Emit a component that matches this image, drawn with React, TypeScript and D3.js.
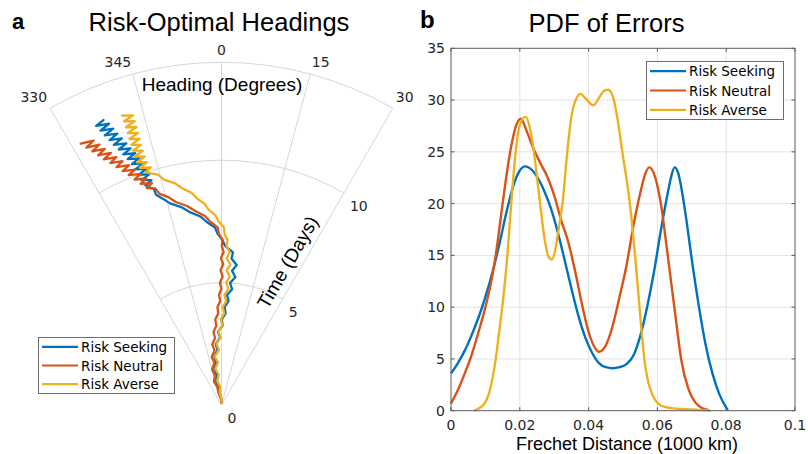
import React from 'react';
import * as d3 from 'd3';

type P = [number, number];

const seriesNames = ['Risk Seeking', 'Risk Neutral', 'Risk Averse'];
const seriesColors = ['#0072BD', '#D95319', '#EDB120'];

// Polar tracks: [time (days), heading (deg, negative = west of north)]
const seekingTrack: P[] = [
  [0.1, 0], [0.25, -2.5], [0.5, -9.5], [0.75, -8.5], [1, -12.5], [1.25, -9], [1.5, -11.5], [1.75, -7],
  [2, -8.5], [2.25, -4], [2.5, -5.5], [2.75, -1.2], [3, -2.7], [3.25, 0.8], [3.5, 0.2], [3.75, 2.6],
  [4, 1.8], [4.25, 3.9], [4.5, 2.9], [4.75, 5.2], [5, 4], [5.25, 6.2], [5.5, 4.5], [5.75, 6.2],
  [6, 3.9], [6.25, 4.3], [6.5, 1.3], [6.75, 0.3], [7, -1.3], [7.25, -2.1], [7.5, -4.6], [7.75, -6.4],
  [8, -9.5], [8.25, -11.5], [8.5, -14.3], [8.75, -15.8], [9, -17.3], [9.25, -17.4], [9.5, -19.1],
  [9.625, -17.3], [9.75, -19.6], [9.875, -17.4], [10, -19.7], [10.125, -17.7], [10.25, -20.1],
  [10.375, -18], [10.5, -20.4], [10.625, -18.4], [10.75, -20.9], [10.875, -18.9], [11, -21.4],
  [11.125, -19.5], [11.25, -21.9], [11.375, -20], [11.5, -22.5], [11.625, -20.5], [11.75, -22.9],
  [11.875, -21], [12, -23.4], [12.125, -21.4], [12.25, -23.8], [12.375, -21.8], [12.5, -24.2], [12.6, -22.5],
];
const neutralTrack: P[] = [
  [0.1, 0], [0.25, -4], [0.5, -14], [0.75, -13], [1, -18], [1.25, -12.5], [1.5, -15], [1.75, -9.5],
  [2, -11.5], [2.25, -7.2], [2.5, -8.7], [2.75, -5.5], [3, -6.3], [3.25, -3.7], [3.5, -4.2], [3.75, -2],
  [4, -2.4], [4.25, -0.7], [4.5, -1.3], [4.75, 0], [5, -0.7], [5.25, 0.5], [5.5, -0.4], [5.75, 0.7],
  [6, -0.2], [6.25, 0.8], [6.5, 0.1], [6.75, 0.3], [7, -0.9], [7.25, -1.2], [7.5, -3.5], [7.75, -5],
  [8, -7.7], [8.25, -9.8], [8.5, -12.7], [8.75, -14.2], [9, -16.4], [9.25, -17], [9.375, -19],
  [9.5, -17.4], [9.625, -20.1], [9.75, -18.4], [9.875, -21.1], [10, -19.3], [10.125, -22], [10.25, -20.2],
  [10.375, -22.9], [10.5, -21.1], [10.625, -23.8], [10.75, -22.1], [10.875, -24.7], [11, -23],
  [11.125, -25.6], [11.25, -23.7], [11.375, -26.3], [11.5, -24.5], [11.625, -27], [11.75, -25.1],
  [11.875, -27.7], [12, -25.8], [12.125, -28.3],
];
const averseTrack: P[] = [
  [0.1, 0], [0.25, 0.5], [0.5, -7.5], [0.75, -4], [1, -10], [1.25, -5.3], [1.5, -9.7], [1.75, -4.8],
  [2, -8], [2.25, -2.6], [2.5, -4.7], [2.75, -0.7], [3, -2.4], [3.25, 0.6], [3.5, -0.4], [3.75, 1.7],
  [4, 0.7], [4.25, 2.6], [4.5, 1.5], [4.75, 3.4], [5, 2.2], [5.25, 3.7], [5.5, 2.2], [5.75, 3.6],
  [6, 2], [6.25, 3.1], [6.5, 1.8], [6.75, 2.1], [7, 1], [7.25, 0.8], [7.5, -0.9], [7.75, -1.8],
  [8, -3.8], [8.25, -4.8], [8.5, -6.8], [8.75, -8], [9, -10.3], [9.25, -11.8], [9.5, -14.3], [9.75, -15.4],
  [10, -18], [10.125, -16.6], [10.25, -19], [10.375, -17.1], [10.5, -19.2], [10.625, -17.2], [10.75, -19.2],
  [10.875, -17.2], [11, -19.2], [11.125, -17.2], [11.25, -19.1], [11.375, -17.1], [11.5, -19.1],
  [11.625, -17.1], [11.75, -19], [11.875, -17], [12, -19], [12.125, -17], [12.25, -19], [12.375, -17], [12.5, -19],
];

const thetaTicks = [-30, -15, 0, 15, 30];
const thetaTickLabels = ['330', '345', '0', '15', '30'];
const radialTicks = [0, 5, 10];

// PDF curves: [Frechet distance (1000 km), density]
const seekingPdf: P[] = [
  [0, 3.6], [0.002, 4.6], [0.004, 5.8], [0.006, 7.3], [0.008, 9.0], [0.010, 11.0], [0.012, 13.3], [0.014, 16.0],
  [0.016, 19.0], [0.018, 21.6], [0.020, 23.2], [0.0215, 23.6], [0.023, 23.4], [0.025, 22.6], [0.027, 21.3],
  [0.029, 19.6], [0.031, 17.3], [0.033, 14.6], [0.035, 11.8], [0.037, 9.2], [0.039, 7.1], [0.041, 5.6],
  [0.043, 4.6], [0.045, 4.2], [0.047, 4.1], [0.049, 4.2], [0.051, 4.5], [0.053, 5.3], [0.055, 7.2],
  [0.057, 10.0], [0.059, 13.4], [0.061, 17.4], [0.063, 21.0], [0.064, 22.6], [0.065, 23.5], [0.066, 23.0],
  [0.068, 19.4], [0.070, 14.6], [0.072, 10.2], [0.074, 6.4], [0.076, 3.6], [0.078, 1.6], [0.080, 0.3], [0.0805, 0.05],
];
const neutralPdf: P[] = [
  [0, 0.7], [0.002, 2.0], [0.004, 3.6], [0.006, 5.4], [0.008, 7.6], [0.010, 10.0], [0.012, 13.0], [0.013, 15.0],
  [0.015, 20.0], [0.017, 24.6], [0.019, 27.6], [0.0203, 28.2], [0.022, 27.0], [0.024, 25.3], [0.026, 23.9],
  [0.028, 22.6], [0.030, 20.8], [0.032, 18.4], [0.034, 16.4], [0.036, 13.6], [0.038, 10.4], [0.040, 7.6],
  [0.042, 6.0], [0.043, 5.7], [0.045, 6.3], [0.047, 8.2], [0.049, 11.0], [0.051, 14.0], [0.053, 17.8],
  [0.055, 21.0], [0.0565, 22.9], [0.0576, 23.5], [0.059, 22.9], [0.061, 20.0], [0.063, 15.0], [0.065, 9.8],
  [0.067, 4.8], [0.069, 2.1], [0.071, 0.8], [0.073, 0.25], [0.075, 0.05],
];
const aversePdf: P[] = [
  [0.0067, 0], [0.008, 0.2], [0.0095, 0.6], [0.011, 1.6], [0.012, 3.0], [0.013, 5.0], [0.014, 7.6],
  [0.0149, 10.0], [0.0164, 15.0], [0.0175, 20.0], [0.0188, 25.0], [0.020, 27.6], [0.0217, 28.4], [0.023, 27.2],
  [0.0241, 25.0], [0.0259, 20.0], [0.0272, 16.6], [0.0283, 14.9], [0.0293, 14.6], [0.0303, 15.5],
  [0.0314, 17.8], [0.0324, 20.0], [0.0338, 25.0], [0.035, 28.4], [0.0365, 30.2], [0.0377, 30.6],
  [0.039, 30.2], [0.0414, 29.5], [0.043, 30.2], [0.0445, 30.9], [0.0457, 31.0], [0.047, 30.4], [0.0485, 28.0],
  [0.0498, 25.0], [0.052, 20.0], [0.0535, 15.0], [0.0548, 10.0], [0.0562, 5.0], [0.058, 2.0], [0.061, 0.5],
  [0.064, 0.25], [0.068, 0.15], [0.072, 0.08], [0.0755, 0],
];

const xTicks = [0, 0.02, 0.04, 0.06, 0.08, 0.1];
const xTickLabels = ['0', '0.02', '0.04', '0.06', '0.08', '0.1'];
const yTicks = [0, 5, 10, 15, 20, 25, 30, 35];

const HELV = '"Liberation Sans", Arial, Helvetica, sans-serif';
const DEJA = '"DejaVu Sans", sans-serif';
const TXT = '#262626';

function PolarPanel() {
  const cx = 221.5, cy = 405, R = 342.7;
  const rScale = d3.scaleLinear().domain([0, 14]).range([0, R]);
  const toRad = d3.scaleLinear().domain([-180, 180]).range([-Math.PI, Math.PI]);
  const pt = (deg: number, rpx: number): P => [cx + rpx * Math.sin(toRad(deg)), cy - rpx * Math.cos(toRad(deg))];
  const arcPath = (rpx: number) => {
    const p = d3.path();
    p.arc(cx, cy, rpx, toRad(-30) - Math.PI / 2, toRad(30) - Math.PI / 2);
    return p.toString();
  };
  const line = d3.lineRadial<P>().angle(d => toRad(d[1])).radius(d => rScale(d[0]));
  const tracks = [seekingTrack, neutralTrack, averseTrack];
  const grid = '#d6d6d6';
  const tLab = pt(30, rScale(6.4));
  const perp = pt(-60, 14);
  const tx = tLab[0] + (perp[0] - cx), ty = tLab[1] + (perp[1] - cy);
  return (
    <g>
      <text x={12} y={29} fontFamily={HELV} fontWeight="bold" fontSize={22} fill="#000">a</text>
      <text x={219} y={31} textAnchor="middle" fontFamily={HELV} fontSize={25.5} fill="#000">Risk-Optimal Headings</text>
      {thetaTicks.map(t => {
        const e = pt(t, R);
        return <line key={'s' + t} x1={cx} y1={cy} x2={e[0]} y2={e[1]} stroke={grid} strokeWidth={1} />;
      })}
      {radialTicks.filter(r => r > 0).map(r => (
        <path key={'a' + r} d={arcPath(rScale(r))} fill="none" stroke={grid} strokeWidth={1} />
      ))}
      <path d={arcPath(R)} fill="none" stroke={grid} strokeWidth={1} />
      {thetaTicks.map((t, i) => {
        const a = pt(t, R + 6);
        const anchor = t < 0 ? 'end' : t > 0 ? 'start' : 'middle';
        return (
          <text key={'tl' + t} x={a[0]} y={a[1] - 1} textAnchor={anchor} fontFamily={DEJA} fontSize={14} fill={TXT}>
            {thetaTickLabels[i]}
          </text>
        );
      })}
      {radialTicks.map(r => {
        const a = pt(30, rScale(r));
        return (
          <text key={'rl' + r} x={a[0] + 6} y={a[1] + 18} fontFamily={DEJA} fontSize={14} fill={TXT}>{r}</text>
        );
      })}
      <text x={222} y={91} textAnchor="middle" fontFamily={HELV} fontSize={19} fill="#000">Heading (Degrees)</text>
      <text x={tx} y={ty} transform={`rotate(-60 ${tx} ${ty})`} textAnchor="middle" dominantBaseline="central"
        fontFamily={HELV} fontSize={19} fill="#000">Time (Days)</text>
      <g transform={`translate(${cx},${cy})`}>
        {tracks.map((tr, i) => (
          <path key={'tr' + i} d={line(tr) || ''} fill="none" stroke={seriesColors[i]} strokeWidth={2.3}
            strokeLinejoin="round" strokeLinecap="round" />
        ))}
      </g>
      <Legend x={38} y={337} w={136} h={56} />
    </g>
  );
}

function Legend({ x, y, w, h }: { x: number; y: number; w: number; h: number }) {
  const rowH = h / 3;
  return (
    <g>
      <rect x={x + 0.5} y={y + 0.5} width={w} height={h} fill="#fff" stroke="#6e6e6e" strokeWidth={1} />
      {seriesNames.map((n, i) => {
        const yy = y + rowH * (i + 0.5) + 0.5;
        return (
          <g key={n}>
            <line x1={x + 4} x2={x + 40} y1={yy} y2={yy} stroke={seriesColors[i]} strokeWidth={2.2} />
            <text x={x + 43} y={yy} dominantBaseline="central" fontFamily={DEJA} fontSize={13.5} fill="#000">{n}</text>
          </g>
        );
      })}
    </g>
  );
}

function PdfPanel() {
  const x = d3.scaleLinear().domain([0, 0.1]).range([451, 795]);
  const y = d3.scaleLinear().domain([0, 35]).range([410.7, 48.3]);
  const line = d3.line<P>().x(d => x(d[0])).y(d => y(d[1])).curve(d3.curveMonotoneX);
  const [x0, x1] = x.range();
  const [y0, y1] = y.range();
  const gridC = '#e3e3e3';
  const tl = 3.5;
  const curves = [seekingPdf, neutralPdf, aversePdf];
  return (
    <g>
      <text x={420} y={28} fontFamily={HELV} fontWeight="bold" fontSize={24} fill="#000">b</text>
      <text x={606.5} y={31.5} textAnchor="middle" fontFamily={HELV} fontSize={25.5} fill="#000">PDF of Errors</text>
      {xTicks.slice(1, -1).map(t => (
        <line key={'gx' + t} x1={x(t)} x2={x(t)} y1={y0} y2={y1} stroke={gridC} strokeWidth={1} />
      ))}
      {yTicks.slice(1, -1).map(t => (
        <line key={'gy' + t} x1={x0} x2={x1} y1={y(t)} y2={y(t)} stroke={gridC} strokeWidth={1} />
      ))}
      {curves.map((c, i) => (
        <path key={'c' + i} d={line(c) || ''} fill="none" stroke={seriesColors[i]} strokeWidth={2.4} strokeLinejoin="round" />
      ))}
      <rect x={x0} y={y1} width={x1 - x0} height={y0 - y1} fill="none" stroke="#5a5a5a" strokeWidth={1} />
      {xTicks.map(t => (
        <g key={'xt' + t}>
          <line x1={x(t)} x2={x(t)} y1={y0} y2={y0 - tl} stroke="#5a5a5a" />
          <line x1={x(t)} x2={x(t)} y1={y1} y2={y1 + tl} stroke="#5a5a5a" />
        </g>
      ))}
      {yTicks.map(t => (
        <g key={'yt' + t}>
          <line x1={x0} x2={x0 + tl} y1={y(t)} y2={y(t)} stroke="#5a5a5a" />
          <line x1={x1} x2={x1 - tl} y1={y(t)} y2={y(t)} stroke="#5a5a5a" />
        </g>
      ))}
      {xTicks.map((t, i) => (
        <text key={'xl' + t} x={x(t)} y={y0 + 19.5} textAnchor="middle" fontFamily={DEJA} fontSize={14} fill={TXT}>{xTickLabels[i]}</text>
      ))}
      {yTicks.map(t => (
        <text key={'yl' + t} x={x0 - 6} y={y(t) + 5} textAnchor="end" fontFamily={DEJA} fontSize={14} fill={TXT}>{t}</text>
      ))}
      <text x={627} y={449.5} textAnchor="middle" fontFamily={HELV} fontSize={18} fill="#000">Frechet Distance (1000 km)</text>
      <Legend x={646} y={61} w={137} h={58} />
    </g>
  );
}

export default function App() {
  return (
    <svg width={808} height={454} viewBox="0 0 808 454"
      style={{ position: 'absolute', left: 0, top: 0, display: 'block', background: '#fff' }}>
      <rect x={0} y={0} width={808} height={454} fill="#fff" />
      <PolarPanel />
      <PdfPanel />
    </svg>
  );
}
